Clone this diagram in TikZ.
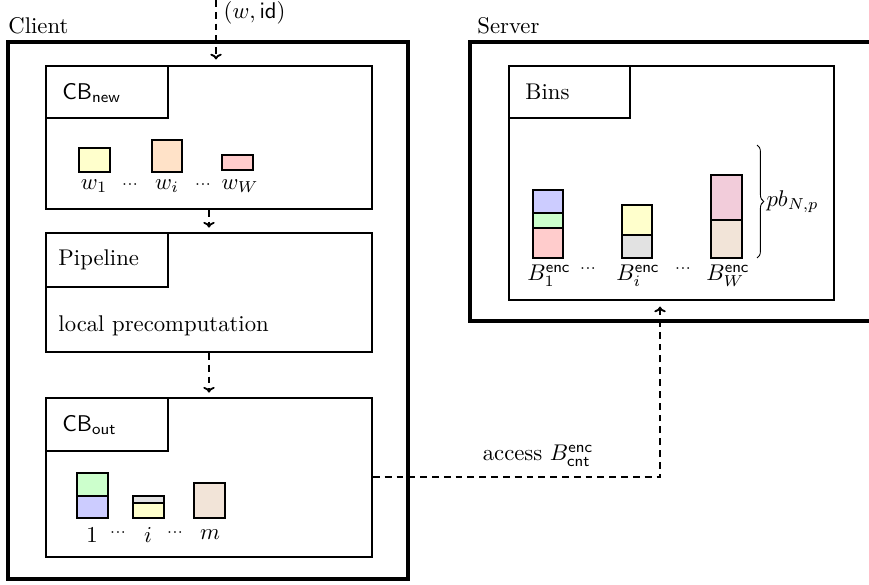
\documentclass[tikz,border=0pt]{standalone}
\usetikzlibrary{decorations.pathreplacing,arrows.meta,fit}
\definecolor{cyel}{HTML}{FFFFCC}
\definecolor{corg}{HTML}{FFE2C8}
\definecolor{cred}{HTML}{FFCCCC}
\definecolor{cblu}{HTML}{CCCCFF}
\definecolor{cgrn}{HTML}{CCFFCC}
\definecolor{cgry}{HTML}{E2E2E2}
\definecolor{cpnk}{HTML}{F2CCDA}
\definecolor{cbei}{HTML}{F2E4D8}
\newcommand{\mydots}{$\scriptstyle\cdots$}
\begin{document}
\begin{tikzpicture}[x=0.44pt,y=-0.44pt,
  outerbox/.style={draw, line width=1.8pt, inner sep=0pt},
  innerbox/.style={draw, line width=0.8pt, inner sep=0pt},
  item/.style={draw, line width=1pt},
  lbl/.style={inner sep=0pt},
  flow/.style={dash pattern=on 3pt off 2.2pt, line width=0.8pt, -{To[length=2.5pt,width=5pt]}}]
\useasboundingbox (0,0) rectangle (869,584);
% Client
\node[outerbox, fit={(8,42) (408,579)}] (client) {};
\node[lbl, anchor=south west] (clientlbl) at (8,34) {Client};
% CB_new
\node[innerbox, fit={(46,66) (372,209)}] (cbnew) {};
\node[innerbox, fit={(46,66) (168,118)}] (cbnewh) {};
\node[lbl, anchor=west] (cbnewt) at (62,93) {$\textsf{CB}_{\mathsf{new}}$};
\node[item, fill=cyel, fit={(79,148) (110,172)}, inner sep=0pt] (w1) {};
\node[item, fill=corg, fit={(152,140) (182,172)}, inner sep=0pt] (wi) {};
\node[item, fill=cred, fit={(222,155) (253,170)}, inner sep=0pt] (wW) {};
\node[lbl] (w1t) at (94,186) {$w_1$};
\node[lbl] (d1) at (130,185) {\mydots};
\node[lbl] (wit) at (167,186) {$w_i$};
\node[lbl] (d2) at (203,185) {\mydots};
\node[lbl] (wWt) at (240,186) {$w_W$};
% Pipeline
\node[innerbox, fit={(46,233) (372,352)}] (pipe) {};
\node[innerbox, fit={(46,233) (168,287)}] (pipeh) {};
\node[lbl, anchor=west] (pipet) at (58,260) {Pipeline};
\node[lbl, anchor=west] (pipel) at (58,326) {local precomputation};
% CB_out
\node[innerbox, fit={(46,398) (372,557)}] (cbout) {};
\node[innerbox, fit={(46,398) (168,451)}] (cbouth) {};
\node[lbl, anchor=west] (cboutt) at (62,425) {$\textsf{CB}_{\mathsf{out}}$};
\draw[item, fill=cgrn] (77,473) rectangle (108,496);
\draw[item, fill=cblu] (77,496) rectangle (108,518);
\draw[item, fill=cgry] (133,496) rectangle (164,503);
\draw[item, fill=cyel] (133,503) rectangle (164,518);
\draw[item, fill=cbei] (194,483) rectangle (225,518);
\node[lbl] (o1) at (92,535) {$1$};
\node[lbl] (od1) at (118,533) {\mydots};
\node[lbl] (oi) at (148,535) {$i$};
\node[lbl] (od2) at (175,533) {\mydots};
\node[lbl] (om) at (210,535) {$m$};
% Server
\node[outerbox, fit={(470,42) (880,321)}] (server) {};
\node[lbl, anchor=south west] (serverlbl) at (477,34) {Server};
\node[innerbox, fit={(509,66) (834,300)}] (bins) {};
\node[innerbox, fit={(509,66) (630,118)}] (binsh) {};
\node[lbl, anchor=west] (binst) at (525,92) {Bins};
\draw[item, fill=cblu] (533,190) rectangle (563,213);
\draw[item, fill=cgrn] (533,213) rectangle (563,228);
\draw[item, fill=cred] (533,228) rectangle (563,258);
\draw[item, fill=cyel] (622,205) rectangle (652,235);
\draw[item, fill=cgry] (622,235) rectangle (652,258);
\draw[item, fill=cpnk] (711,175) rectangle (742,220);
\draw[item, fill=cbei] (711,220) rectangle (742,258);
\node[lbl] (b1) at (549,276) {$B_1^{\mathsf{enc}}$};
\node[lbl] (bd1) at (588,269) {\mydots};
\node[lbl] (bi) at (638,276) {$B_i^{\mathsf{enc}}$};
\node[lbl] (bd2) at (683,269) {\mydots};
\node[lbl] (bW) at (728,276) {$B_W^{\mathsf{enc}}$};
\coordinate (brtop) at (757,145);
\coordinate (brbot) at (757,258);
\draw[decorate, decoration={brace, amplitude=3pt}, line width=0.4pt] (brtop) -- (brbot) node[midway, right=4pt, lbl] (pb) {$pb_{N,p}$};
% connectors
\coordinate (in) at (216,0);
\draw[flow, shorten >=2.5pt] (in) -- (in |- cbnew.north) node[pos=0.2, right=3pt, lbl] (inlbl) {$(w,\mathsf{id})$};
\draw[flow, shorten >=2pt] (cbnew.south) -- (pipe.north);
\draw[flow, shorten >=2pt] (pipe.south) -- (cbout.north);
\coordinate (turn) at (660,477);
\draw[flow, shorten >=2.5pt] (cbout.east |- turn) -- (turn) -- (turn |- bins.south);
\node[lbl] (acc) at (538,456) {access $B_{\mathsf{cnt}}^{\mathsf{enc}}$};
\end{tikzpicture}
\end{document}
